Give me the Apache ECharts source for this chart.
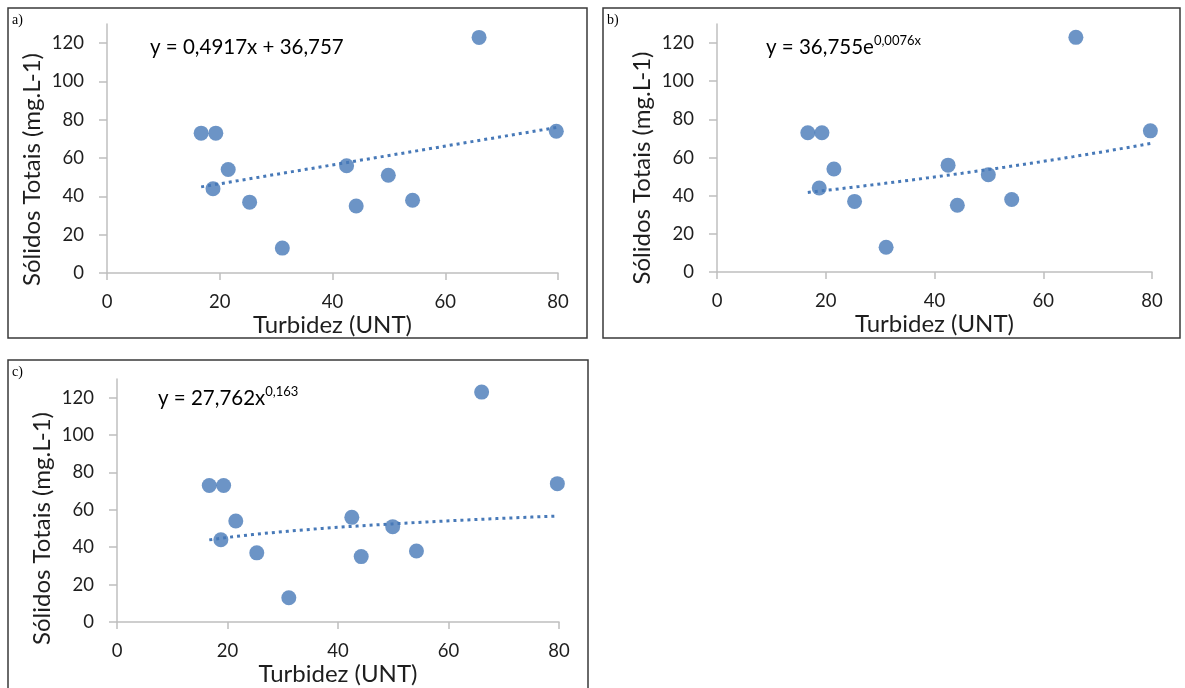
<!DOCTYPE html>
<html>
<head>
<meta charset="utf-8">
<title>Sólidos Totais vs Turbidez</title>
<script src="https://cdn.jsdelivr.net/npm/echarts@6/dist/echarts.min.js"></script>
<style>
  html, body { margin: 0; padding: 0; background: #ffffff; }
  #chart { width: 1185px; height: 688px; }
</style>
</head>
<body>
<div id="chart"></div>
<script>
// Measured samples: turbidity (UNT) and total solids (mg/L)
const turbidez = [16.7, 19.3, 21.5, 18.8, 25.3, 31.1, 42.5, 44.2, 49.9, 54.2, 66.0, 79.7];
const solidos  = [73, 73, 54, 44, 37, 13, 56, 35, 51, 38, 123, 74];

// Fitted trend-line coefficients, as printed on each panel
const linearFit = { slope: 0.4917, intercept: 36.757 };
const expFit    = { a: 36.755, b: 0.0076 };
const powerFit  = { a: 27.762, b: 0.163 };

const xTicks = [0, 20, 40, 60, 80];
const yTicks = [0, 20, 40, 60, 80, 100, 120];
const panelLabels = ['a)', 'b)', 'c)'];
const xAxisTitle = 'Turbidez (UNT)';
const yAxisTitle = 'Sólidos Totais (mg.L-1)';

const BLUE = '#4779b8';
const AXIS_GRAY = '#bfbfbf';
const TEXT = '#1e1e1e';
const FONT = 'Lato';

const points = turbidez.map((x, i) => [x, solidos[i]]);
const xMin = Math.min(...turbidez);
const xMax = Math.max(...turbidez);

function sampleCurve(fn, n) {
  const out = [];
  for (let i = 0; i <= n; i++) {
    const x = xMin + (xMax - xMin) * i / n;
    out.push([x, fn(x)]);
  }
  return out;
}

const trendLines = [
  sampleCurve(x => linearFit.slope * x + linearFit.intercept, 1),
  sampleCurve(x => expFit.a * Math.exp(expFit.b * x), 40),
  sampleCurve(x => powerFit.a * Math.pow(x, powerFit.b), 40)
];

// Plot-area geometry of the three panels
const grids = [
  { left: 107, top: 24, width: 451, height: 249 },
  { left: 717, top: 24, width: 435, height: 248 },
  { left: 117, top: 379, width: 442, height: 243 }
];
// Offset (px) of the rotated y title below the axis centre
const yTitleShift = [42, 40, 56];

const axisLineStyle = { color: AXIS_GRAY, width: 1.5 };

const xAxes = grids.map((g, i) => ({
  type: 'value', gridIndex: i, min: 0, max: 80, interval: 20,
  axisLine: { show: true, lineStyle: axisLineStyle },
  axisTick: { show: true, length: 7, lineStyle: axisLineStyle, customValues: xTicks },
  axisLabel: { fontFamily: FONT, fontSize: 18.5, color: TEXT, margin: 20, customValues: xTicks },
  splitLine: { show: false },
  name: xAxisTitle, nameLocation: 'middle', nameGap: 30,
  nameTextStyle: { fontFamily: FONT, fontSize: 24, color: TEXT }
}));

const yAxes = grids.map((g, i) => ({
  type: 'value', gridIndex: i, min: 0, max: 130, interval: 20,
  axisLine: { show: true, lineStyle: axisLineStyle },
  axisTick: { show: true, length: 8, lineStyle: axisLineStyle, customValues: yTicks },
  axisLabel: { fontFamily: FONT, fontSize: 18.5, color: TEXT, margin: 23, customValues: yTicks },
  splitLine: { show: false },
  name: yAxisTitle, nameLocation: 'middle', nameGap: 63, nameRotate: 90,
  nameTextStyle: { fontFamily: FONT, fontSize: 24, color: TEXT, padding: [0, yTitleShift[i], 0, 0] }
}));

const series = [];
grids.forEach((g, i) => {
  series.push({
    type: 'line', xAxisIndex: i, yAxisIndex: i, data: trendLines[i],
    showSymbol: false, smooth: false, silent: true, z: 1,
    lineStyle: { color: BLUE, width: 3, type: [3, 4], cap: 'butt' }
  });
  series.push({
    type: 'scatter', xAxisIndex: i, yAxisIndex: i, data: points,
    symbol: 'circle', symbolSize: 15, z: 2,
    itemStyle: { color: BLUE }
  });
});

// Panel frames, panel letters and fitted equations
const frames = [
  { x: 8, y: 8, width: 579, height: 330 },
  { x: 603, y: 8, width: 577, height: 330 },
  { x: 8, y: 360, width: 580, height: 345 }
];
const labelPos = [[12, 13], [607, 13], [12, 365]];
const eqPos = [[150, 34], [766, 34], [158, 385]];
const eqRich = {
  m: { fontFamily: FONT, fontSize: 20.5, color: TEXT, lineHeight: 26 },
  s: { fontFamily: FONT, fontSize: 13, color: TEXT, verticalAlign: 'top', lineHeight: 26 }
};
const eqTexts = [
  '{m|y = 0,4917x + 36,757}',
  '{m|y = 36,755e}{s|0,0076x}',
  '{m|y = 27,762x}{s|0,163}'
];

const graphic = [];
frames.forEach((f, i) => {
  graphic.push({
    type: 'rect', shape: f, silent: true, z: 0,
    style: { fill: 'none', stroke: '#3a3a3a', lineWidth: 1.5 }
  });
  graphic.push({
    type: 'text', x: labelPos[i][0], y: labelPos[i][1], silent: true,
    style: { text: panelLabels[i], font: '14px "Liberation Serif"', fill: '#000' }
  });
  graphic.push({
    type: 'text', x: eqPos[i][0], y: eqPos[i][1], silent: true,
    style: { text: eqTexts[i], rich: eqRich, verticalAlign: 'top' }
  });
});

const chart = echarts.init(document.getElementById('chart'), null, { renderer: 'canvas' });
chart.setOption({
  animation: false,
  backgroundColor: '#ffffff',
  grid: grids,
  xAxis: xAxes,
  yAxis: yAxes,
  series: series,
  graphic: graphic
});
</script>
</body>
</html>
